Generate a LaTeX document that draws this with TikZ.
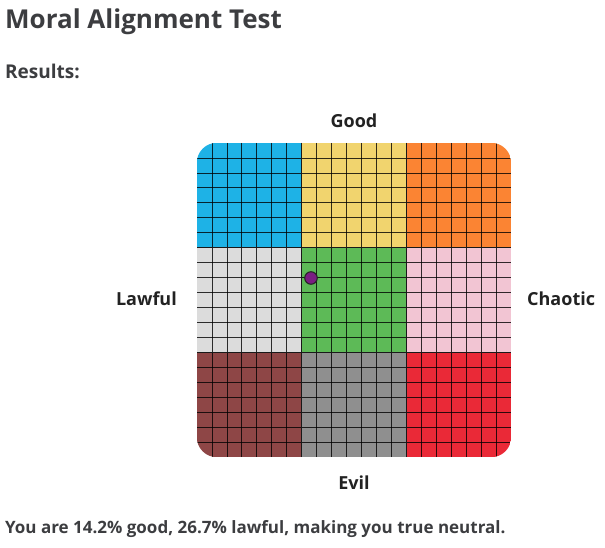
\documentclass[tikz,border=0pt]{standalone}
\usepackage{fontspec}
\setmainfont{Open Sans}
\usetikzlibrary{positioning}

\definecolor{headgray}{HTML}{3C3D40}
\definecolor{axisgray}{HTML}{222222}
\definecolor{lgood}{HTML}{1EB2E6}
\definecolor{ngood}{HTML}{F1D46E}
\definecolor{cgood}{HTML}{FB8433}
\definecolor{lneut}{HTML}{DCDCDC}
\definecolor{tneut}{HTML}{5DBA57}
\definecolor{cneut}{HTML}{F2C5D3}
\definecolor{levil}{HTML}{8E4646}
\definecolor{nevil}{HTML}{8F8F8F}
\definecolor{cevil}{HTML}{EA2937}
\definecolor{dotpurple}{HTML}{7A1E82}

\begin{document}
\begin{tikzpicture}[x=1pt,y=-1pt,
    head/.style={anchor=base west,inner sep=0pt,text=headgray,font=\bfseries},
    axis label/.style={inner sep=0pt,text=axisgray,font=\bfseries\fontsize{18}{21}\selectfont},
    thin line/.style={draw=black,opacity=0.8,line width=0.8pt},
    block line/.style={draw=black!90,line width=1.5pt},
    marker/.style={circle,draw=black!85,fill=dotpurple,line width=1.1pt,minimum size=12.5pt,inner sep=0pt}]

  \useasboundingbox (0,0) rectangle (605,548);

  % headings
  \node[head,font=\bfseries\fontsize{26}{30}\selectfont] (title) at (5,29) {Moral Alignment Test};
  \node[head,font=\bfseries\fontsize{19}{22}\selectfont] (results) at (5,79) {Results:};

  % chart
  \node[minimum size=314pt,inner sep=0pt] (chart) at (354,300) {};
  \begin{scope}
    \clip[rounded corners=20pt] (chart.south west) rectangle (chart.north east);
    \foreach \col/\row/\clr in {0/0/lgood,1/0/ngood,2/0/cgood,
                                0/1/lneut,1/1/tneut,2/1/cneut,
                                0/2/levil,1/2/nevil,2/2/cevil}
      \fill[\clr] (197+\col*104.667,143+\row*104.667) rectangle ++(104.667,104.667);
    \foreach \k in {1,...,20} {
      \draw[thin line] (197+\k*14.952,143) -- ++(0,314);
      \draw[thin line] (197,143+\k*14.952) -- ++(314,0);
    }
    \foreach \k in {1,2} {
      \draw[block line] (197+\k*104.667,143) -- ++(0,314);
      \draw[block line] (197,143+\k*104.667) -- ++(314,0);
    }
  \end{scope}

  % axis labels
  \node[axis label,anchor=base] (good) at (354,128) {Good};
  \node[axis label,anchor=base east] (lawful) at (177,305) {Lawful};
  \node[axis label,anchor=base west] (chaotic) at (527,305) {Chaotic};
  \node[axis label,anchor=base] (evil) at (354,489) {Evil};

  % result marker
  \node[marker] (you) at (311,278) {};

  \node[head,font=\bfseries\fontsize{17}{20}\selectfont] (verdict) at (5,533)
    {You are 14.2\% good, 26.7\% lawful, making you true neutral.};
\end{tikzpicture}
\end{document}
